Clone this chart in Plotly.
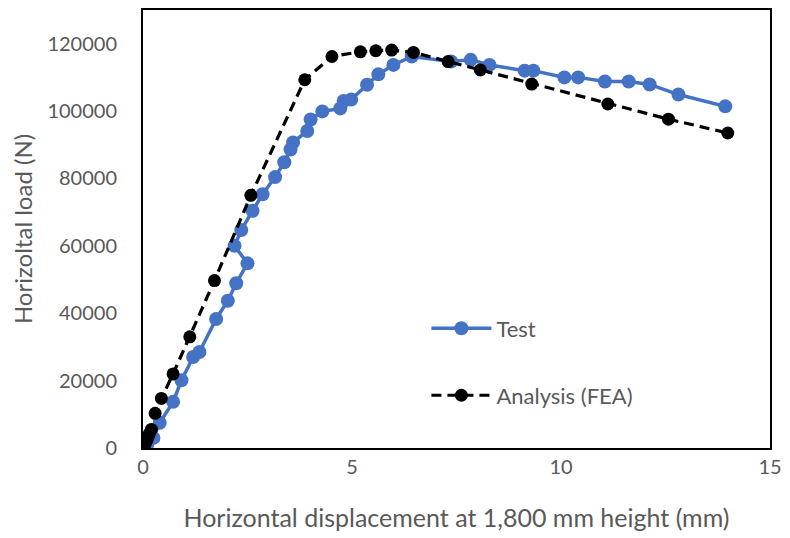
import plotly.graph_objects as go

test_x = [0, 0.1, 0.25, 0.4, 0.72, 0.92, 1.20, 1.35, 1.75, 2.03, 2.23, 2.50, 2.19, 2.35, 2.62, 2.86,
          3.16, 3.38, 3.53, 3.59, 3.93, 4.01, 4.29, 4.72, 4.80, 4.98, 5.36, 5.63, 5.99, 6.43, 7.37,
          7.84, 8.29, 9.13, 9.34, 10.08, 10.41, 11.05, 11.62, 12.12, 12.81, 13.93]
test_y = [0, 1000, 3000, 7500, 13700, 20100, 27000, 28500, 38300, 43700, 48900, 54800, 60000, 64700,
          70400, 75300, 80400, 84800, 88600, 90700, 94100, 97500, 99900, 100800, 103000, 103400,
          107800, 110900, 113700, 116200, 114700, 115200, 113700, 112000, 112000, 110000, 110000,
          108800, 108800, 107900, 104900, 101400]

fea_x = [0, 0.03, 0.06, 0.09, 0.12, 0.15, 0.20, 0.29, 0.44, 0.72, 1.12, 1.71, 2.58, 3.87, 4.52,
         5.20, 5.57, 5.95, 6.47, 7.30, 8.07, 9.30, 11.12, 12.57, 13.99]
fea_y = [0, 700, 1500, 2300, 3200, 4200, 5500, 10300, 14700, 22000, 33000, 49700, 75000, 109300,
         116200, 117600, 117900, 118100, 117400, 114700, 112200, 108000, 102100, 97600, 93500]

x_ticks = [0, 5, 10, 15]
y_ticks = [0, 20000, 40000, 60000, 80000, 100000, 120000]

FONT = "Lato"
GREY = "#595959"

fig = go.Figure()
fig.add_trace(go.Scatter(
    x=test_x, y=test_y, name="Test", mode="lines+markers",
    line=dict(color="#4472C4", width=3.5),
    marker=dict(color="#4472C4", size=14),
    legend="legend", showlegend=True,
))
fig.add_trace(go.Scatter(
    x=fea_x, y=fea_y, name="Analysis (FEA)", mode="lines+markers",
    line=dict(color="black", width=3.2, dash="10px,6px"),
    marker=dict(color="black", size=13),
    legend="legend2", showlegend=True,
))

axis_common = dict(
    showline=True, linecolor="black", linewidth=2, mirror=True,
    showgrid=False, zeroline=False, ticks="",
    tickfont=dict(family=FONT, size=20, color=GREY),
)

legend_common = dict(xanchor="left", yanchor="middle", bgcolor="rgba(0,0,0,0)",
                     font=dict(family=FONT, size=22, color=GREY), itemwidth=60)

fig.update_layout(
    width=790, height=538,
    margin=dict(l=143, r=16, t=8, b=90),
    paper_bgcolor="white", plot_bgcolor="white",
    font=dict(family=FONT, color=GREY),
    showlegend=True,
    xaxis=dict(range=[0, 15], tickvals=x_ticks, ticktext=[str(v) for v in x_ticks],
               ticklabelstandoff=0,
               title=dict(text="Horizontal displacement at 1,800 mm height (mm)",
                          font=dict(family=FONT, size=25, color=GREY), standoff=32),
               **axis_common),
    yaxis=dict(range=[0, 130000], tickvals=y_ticks, ticktext=[str(v) for v in y_ticks],
               ticklabelstandoff=20,
               title=dict(text="Horizoltal load (N)",
                          font=dict(family=FONT, size=24, color=GREY), standoff=8),
               **axis_common),
    legend=dict(x=0.452, y=0.273, **legend_common),
    legend2=dict(x=0.452, y=0.12, **legend_common),
)

fig.write_html("out.html")
